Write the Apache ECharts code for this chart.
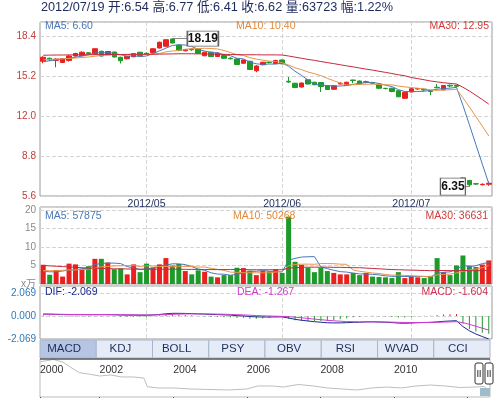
<!DOCTYPE html>
<html>
<head>
<meta charset="utf-8">
<script src="https://cdn.jsdelivr.net/npm/echarts@6/dist/echarts.min.js"></script>
<style>
  html, body { margin: 0; padding: 0; background: #fff; }
  #chart { width: 494px; height: 398px; }
</style>
</head>
<body>
<div id="chart"></div>
<script>
// 交易日
const dates = [
  '2012-04-06','2012-04-09','2012-04-10','2012-04-11','2012-04-12','2012-04-13','2012-04-16','2012-04-17','2012-04-18','2012-04-19',
  '2012-04-20','2012-04-23','2012-04-24','2012-04-25','2012-04-26','2012-04-27','2012-05-02','2012-05-03','2012-05-04','2012-05-07',
  '2012-05-08','2012-05-09','2012-05-10','2012-05-11','2012-05-14','2012-05-15','2012-05-16','2012-05-17','2012-05-18','2012-05-21',
  '2012-05-22','2012-05-23','2012-05-24','2012-05-25','2012-05-29','2012-05-30','2012-05-31','2012-06-01','2012-06-04','2012-06-05',
  '2012-06-06','2012-06-07','2012-06-08','2012-06-11','2012-06-12','2012-06-13','2012-06-14','2012-06-15','2012-06-18','2012-06-19',
  '2012-06-20','2012-06-21','2012-06-25','2012-06-26','2012-06-27','2012-06-28','2012-06-29','2012-07-02','2012-07-03','2012-07-04',
  '2012-07-05','2012-07-06','2012-07-09','2012-07-10','2012-07-11','2012-07-13','2012-07-16','2012-07-17','2012-07-18','2012-07-19'
];

// K线 开 收 低 高
const open = [
  16.38,16.62,16.45,16.28,16.45,16.80,16.82,17.06,16.96,17.18, 16.90,17.12,16.70,16.58,16.74,17.10,17.02,17.06,17.44,17.58,
  18.16,17.68,17.22,17.34,17.36,16.82,17.10,16.76,16.84,16.62, 16.56,16.22,16.38,15.62,16.10,16.30,16.20,16.48,14.78,14.62,
  14.32,14.90,14.70,14.68,14.42,14.14,14.56,14.44,14.88,14.80, 14.70,14.66,14.54,14.21,14.22,14.02,13.42,13.92,14.16,14.14,
  14.02,14.30,14.10,14.46,14.46,7.05,6.85,6.58,6.50,6.54
];
const close = [
  16.70,16.52,16.55,16.58,16.80,17.00,17.10,16.98,17.38,16.80, 17.16,16.72,16.42,16.78,17.00,16.82,16.96,17.38,17.90,18.10,
  17.84,17.24,17.30,17.30,17.02,17.10,16.76,17.04,16.62,16.58, 16.12,16.48,15.72,16.00,16.30,16.28,16.44,16.18,14.72,14.28,
  14.64,14.56,14.50,14.36,14.12,14.42,14.62,14.70,14.84,14.56, 14.74,14.62,14.22,14.20,13.96,13.54,13.90,14.18,14.20,14.08,
  13.96,14.26,14.44,14.40,14.38,6.78,6.50,6.56,6.54,6.62
];
const low = [
  16.22,16.40,15.90,16.24,16.35,16.74,16.78,16.90,16.92,16.76, 16.86,16.68,16.20,16.52,16.70,16.78,16.90,17.02,17.40,17.54,
  17.80,17.18,17.16,17.22,16.98,16.78,16.72,16.72,16.56,16.52, 16.08,16.18,15.68,15.50,16.06,16.20,16.16,16.14,14.66,14.22,
  14.28,14.52,14.46,13.92,14.08,14.10,14.52,14.40,14.62,14.52, 14.62,14.56,14.18,14.12,13.90,13.50,13.38,13.88,14.10,14.00,
  13.66,14.22,14.06,14.30,14.30,6.70,6.35,6.48,6.45,6.41
];
const high = [
  16.78,16.66,16.62,16.62,16.88,17.06,17.18,17.10,17.42,17.22, 17.20,17.14,16.74,16.82,17.04,17.14,17.08,17.42,17.96,18.15,
  18.19,17.72,17.36,17.40,17.40,17.14,17.14,17.08,16.88,16.70, 16.60,16.52,16.42,16.06,16.34,16.36,16.50,16.52,15.12,14.66,
  14.68,14.94,14.74,14.72,14.46,14.46,14.70,14.74,14.90,14.84, 14.82,14.72,14.58,14.26,14.26,14.06,13.94,14.22,14.26,14.20,
  14.06,14.56,14.48,14.52,14.50,7.10,6.88,6.65,6.60,6.77
];
const ma5 = [
  16.34,16.42,16.50,16.56,16.63,16.69,16.81,16.89,17.05,17.05, 17.08,17.01,16.90,16.78,16.82,16.75,16.80,16.99,17.21,17.43,
  17.64,17.69,17.68,17.56,17.34,17.19,17.10,17.04,16.91,16.82, 16.62,16.57,16.30,16.18,16.12,16.16,16.15,16.24,15.98,15.58,
  15.25,14.88,14.54,14.47,14.44,14.39,14.40,14.44,14.53,14.62, 14.68,14.69,14.60,14.47,14.35,14.11,13.96,13.96,13.96,13.98,
  14.06,14.14,14.19,14.23,14.29,12.85,11.30,9.72,8.15,6.60
];
const ma10 = [
  16.50,16.52,16.55,16.58,16.60,16.64,16.68,16.72,16.78,16.84, 16.89,16.91,16.90,16.92,16.94,16.92,16.91,16.95,17.00,17.13,
  17.20,17.25,17.34,17.39,17.39,17.42,17.40,17.36,17.24,17.08, 16.91,16.84,16.67,16.55,16.47,16.39,16.36,16.27,16.08,15.85,
  15.71,15.52,15.39,15.23,15.01,14.82,14.64,14.49,14.50,14.53, 14.54,14.55,14.52,14.50,14.49,14.40,14.33,14.28,14.22,14.17,
  14.09,14.05,14.08,14.10,14.14,13.46,12.72,11.96,11.19,10.40
];
const ma30 = [
  16.86,16.87,16.88,16.88,16.89,16.89,16.90,16.90,16.91,16.91, 16.92,16.92,16.92,16.93,16.93,16.93,16.94,16.94,16.95,16.96,
  16.97,16.98,16.98,16.98,16.97,16.96,16.95,16.94,16.93,16.92, 16.91,16.90,16.90,16.90,16.89,16.89,16.89,16.88,16.80,16.71,
  16.62,16.53,16.45,16.36,16.27,16.19,16.10,16.01,15.93,15.84, 15.75,15.67,15.58,15.49,15.40,15.30,15.22,15.08,14.99,14.90,
  14.80,14.73,14.66,14.61,14.56,14.30,14.00,13.66,13.32,12.95
];

// 成交量（万）
const vol = [
  5.2,2.5,3.8,2.0,5.5,5.3,4.0,4.8,6.8,6.8, 5.8,4.0,4.2,2.6,5.3,3.2,5.5,4.5,5.3,7.0,
  5.0,5.4,3.5,2.6,3.7,3.3,2.0,1.8,2.4,2.4, 4.4,4.3,3.6,2.4,3.5,3.4,4.0,3.0,18.2,6.0,
  5.2,4.4,3.2,4.4,3.5,3.0,2.6,2.6,3.0,2.4, 3.0,2.0,1.9,1.8,1.6,3.2,1.6,2.0,1.8,1.6,
  2.2,7.0,3.2,2.4,5.0,7.7,5.0,4.6,5.27,6.37
];
const volMa5 = [
  3.40,3.30,3.30,3.50,3.80,3.82,4.12,4.32,5.28,5.54, 5.64,5.64,5.52,4.68,4.38,3.86,4.16,4.22,4.76,5.10,
  5.46,5.44,5.24,4.70,4.04,3.70,3.02,2.68,2.64,2.38, 2.60,3.06,3.42,3.42,3.64,3.44,3.38,3.26,6.42,6.92,
  7.28,7.36,7.40,4.64,4.14,3.70,3.34,3.22,2.94,2.72, 2.72,2.60,2.46,2.22,2.06,2.10,2.02,2.04,2.04,2.04,
  1.84,2.92,3.16,3.28,3.96,5.06,4.66,4.94,5.51,5.79
];
const volMa10 = [
  3.60,3.60,3.60,3.70,3.80,3.80,3.90,4.00,4.30,4.67, 4.73,4.88,4.92,4.98,4.96,4.75,4.90,4.87,4.72,4.74,
  4.66,4.80,4.73,4.73,4.57,4.58,4.23,3.96,3.67,3.21, 3.15,3.04,3.05,3.03,3.01,3.02,3.22,3.34,4.92,5.28,
  5.36,5.37,5.33,5.53,5.53,5.49,5.35,5.31,3.79,3.43, 3.21,2.97,2.84,2.58,2.39,2.41,2.31,2.25,2.13,2.05,
  1.97,2.47,2.60,2.66,3.00,3.45,3.79,4.05,4.40,5.03
];
const volMa30 = [
  5.00,4.90,4.80,4.70,4.60,4.50,4.40,4.30,4.30,4.20, 4.15,4.10,4.10,4.05,4.05,4.00,4.00,4.00,4.00,4.00,
  4.00,4.00,3.95,3.95,3.95,3.90,3.90,3.90,3.90,3.90, 3.90,3.90,3.85,3.85,3.85,3.85,3.85,3.85,4.30,4.40,
  4.50,4.55,4.55,4.55,4.55,4.50,4.50,4.45,4.40,4.40, 4.30,4.20,4.10,4.00,3.90,3.85,3.80,3.75,3.70,3.65,
  3.60,3.65,3.65,3.60,3.60,3.65,3.60,3.60,3.62,3.66
];

// MACD
const dif = [
  0.18,0.17,0.15,0.13,0.12,0.12,0.12,0.11,0.12,0.12, 0.12,0.11,0.09,0.08,0.08,0.07,0.07,0.09,0.14,0.20,
  0.24,0.24,0.23,0.22,0.19,0.17,0.14,0.13,0.10,0.08, 0.03,0.01,-0.05,-0.08,-0.09,-0.09,-0.08,-0.08,-0.18,-0.30,
  -0.38,-0.45,-0.51,-0.56,-0.61,-0.62,-0.62,-0.60,-0.57,-0.56, -0.53,-0.52,-0.54,-0.56,-0.59,-0.64,-0.65,-0.63,-0.60,-0.58,
  -0.57,-0.53,-0.48,-0.45,-0.42,-0.95,-1.33,-1.62,-1.85,-2.069
];
const dea = [
  0.15,0.15,0.15,0.15,0.14,0.14,0.14,0.13,0.13,0.13, 0.13,0.12,0.12,0.11,0.11,0.10,0.10,0.10,0.11,0.12,
  0.15,0.17,0.18,0.19,0.19,0.19,0.18,0.17,0.16,0.14, 0.12,0.10,0.07,0.04,0.02,0.00,-0.02,-0.03,-0.06,-0.11,
  -0.16,-0.22,-0.28,-0.33,-0.39,-0.43,-0.47,-0.50,-0.51,-0.53, -0.53,-0.53,-0.53,-0.54,-0.55,-0.57,-0.58,-0.59,-0.59,-0.59,
  -0.58,-0.57,-0.55,-0.53,-0.51,-0.60,-0.75,-0.92,-1.10,-1.267
];
const macd = [
  0.06,0.04,0.00,-0.04,-0.04,-0.04,-0.04,-0.04,-0.02,-0.02, -0.02,-0.02,-0.06,-0.06,-0.06,-0.06,-0.06,-0.02,0.06,0.16,
  0.18,0.14,0.10,0.06,0.00,-0.04,-0.08,-0.08,-0.12,-0.12, -0.18,-0.18,-0.24,-0.24,-0.22,-0.18,-0.12,-0.10,-0.24,-0.38,
  -0.44,-0.46,-0.46,-0.46,-0.44,-0.38,-0.30,-0.20,-0.12,-0.06, 0.00,0.02,-0.02,-0.04,-0.08,-0.14,-0.14,-0.08,-0.02,0.02,
  0.02,0.08,0.14,0.16,0.18,-0.70,-1.16,-1.40,-1.50,-1.604
];

// 历史走势（缩略）
const histYear = [
  2000.40,2000.75,2001.00,2001.20,2001.45,2001.70,2002.00,2002.30,2002.60,2002.90,
  2003.20,2003.30,2003.60,2004.00,2004.50,2005.00,2005.50,2006.00,2006.30,2006.70,
  2007.00,2007.40,2007.80,2008.20,2008.60,2009.00,2009.40,2009.80,2010.20,2010.60,
  2011.00,2011.40,2011.80,2012.20,2012.45,2012.55
];
const histPrice = [
  37.2,39.5,36.8,31.6,25.6,24.2,22.1,23.2,21.1,21.1,
  20.0,10.8,9.5,9.5,8.4,7.9,7.4,8.4,11.6,11.6,
  10.5,13.2,11.6,9.5,8.4,7.4,9.5,10.5,9.5,11.6,
  12.6,11.6,10.0,10.5,11.0,7.4
];

const tabNames = ['MACD', 'KDJ', 'BOLL', 'PSY', 'OBV', 'RSI', 'WVAD', 'CCI'];

const UP = '#e8201e';
const DOWN = '#1e9a2a';
const FONT = "'Liberation Sans', 'Noto Sans CJK SC', sans-serif";

const monthStart = (idx) => idx > 0 && dates[idx].slice(5, 7) !== dates[idx - 1].slice(5, 7);

const maxHigh = Math.max(...high);
const iMax = high.indexOf(maxHigh);
const minLow = Math.min(...low);
const iMin = low.indexOf(minLow);

function maLine(data, color, idx) {
  return {
    type: 'line', xAxisIndex: idx, yAxisIndex: idx, data: data,
    symbol: 'none', silent: true,
    lineStyle: { width: 1, color: color }, itemStyle: { color: color }
  };
}

function txt(x, y, s, color, opt) {
  const el = { type: 'text', top: y, style: { text: s, fill: color, font: (opt && opt.font) || ('10.5px ' + FONT) }, z: 100 };
  if (opt && opt.right !== undefined) el.right = opt.right; else el.left = x;
  return el;
}

const graphics = [
  txt(41, 1, '2012/07/19 开:6.54 高:6.77 低:6.41 收:6.62 量:63723 幅:1.22%', '#1c2a5c', { font: '12.7px ' + FONT }),
  txt(45, 21, 'MA5: 6.60', '#4a78b8'),
  txt(236, 21, 'MA10: 10.40', '#e08a3c'),
  txt(0, 21, 'MA30: 12.95', '#d23a3a', { right: 5 }),
  txt(45, 211, 'MA5: 57875', '#4a78b8'),
  txt(233, 211, 'MA10: 50268', '#e08a3c'),
  txt(0, 211, 'MA30: 36631', '#d23a3a', { right: 6 }),
  txt(45, 287, 'DIF: -2.069', '#1c2a8c'),
  txt(237, 287, 'DEA: -1.267', '#d03cd0'),
  txt(0, 287, 'MACD: -1.604', '#c83250', { right: 6 })
];

// 指标选项卡
tabNames.forEach((name, i) => {
  const w = 450 / tabNames.length;
  const x = 40 + i * w;
  graphics.push({
    type: 'rect', shape: { x: x, y: 340, width: w, height: 18 },
    style: { fill: i === 0 ? '#b6c5e4' : '#e6ecf7', stroke: '#a9b5ca', lineWidth: 1 }, z: 90
  });
  graphics.push({
    type: 'text', x: x + w / 2 - 4, y: 349,
    style: { text: name, fill: '#1e2d5a', font: '11.5px ' + FONT, align: 'center', verticalAlign: 'middle' }, z: 95
  });
});

// 缩略轴上沿与拖动手柄
graphics.push({ type: 'line', shape: { x1: 40, y1: 359, x2: 490, y2: 359 }, style: { stroke: '#222', lineWidth: 1 }, z: 96 });
graphics.push({ type: 'rect', shape: { x: 480, y: 388, width: 10, height: 8 }, style: { fill: '#9fbccb' }, z: 96 });
[475, 485].forEach(hx => {
  graphics.push({ type: 'rect', shape: { x: hx, y: 363, width: 8, height: 21, r: 2 }, style: { fill: '#fff', stroke: '#333', lineWidth: 1 }, z: 97 });
  [2.5, 4, 5.5].forEach(dx => {
    graphics.push({ type: 'line', shape: { x1: hx + dx, y1: 370, x2: hx + dx, y2: 377 }, style: { stroke: '#555', lineWidth: 0.8 }, z: 98 });
  });
});

const chart = echarts.init(document.getElementById('chart'));

const catAxis = (g) => ({
  type: 'category', gridIndex: g, data: dates, boundaryGap: true,
  axisLine: { show: false }, axisTick: { show: false },
  axisLabel: {
    show: g === 0, interval: monthStart, color: '#1f2d5c', fontSize: 10.5, margin: 3, fontFamily: FONT,
    formatter: (v) => v.slice(0, 7).replace('-', '/')
  },
  splitLine: { show: true, interval: monthStart, alignWithLabel: true, lineStyle: { color: '#d4d4d4', type: 'dashed' } }
});

const dashed = { show: true, lineStyle: { color: '#d4d4d4', type: 'dashed' } };

chart.setOption({
  animation: false,
  backgroundColor: '#fff',
  textStyle: { fontFamily: FONT },
  grid: [
    { left: 40, top: 22, width: 452, height: 174, show: true, borderColor: '#9a9a9a' },
    { left: 40, top: 207, width: 452, height: 77, show: true, borderColor: '#9a9a9a' },
    { left: 40, top: 286, width: 452, height: 53, show: true, borderColor: '#9a9a9a' },
    { left: 40, top: 359, width: 450, height: 38, show: true, borderColor: '#bbbbbb' }
  ],
  xAxis: [
    catAxis(0), catAxis(1), catAxis(2),
    {
      type: 'value', gridIndex: 3, min: 2000.38, max: 2012.61, position: 'top',
      axisLine: { show: false },
      axisTick: { show: true, inside: true, length: 4, lineStyle: { color: '#555' } },
      axisLabel: { inside: true, align: 'left', margin: 6, color: '#333', fontSize: 10.5, showMaxLabel: false,
        formatter: (v) => (v > 2011.5 ? '' : String(Math.floor(v + 1e-6))) },
      splitLine: { show: false }
    }
  ],
  yAxis: [
    {
      type: 'value', gridIndex: 0, min: 5.6, max: 19.52, interval: 3.2,
      axisLine: { show: false }, axisTick: { show: false }, splitLine: dashed,
      axisLabel: { color: '#c2403a', fontSize: 10, margin: 4, showMaxLabel: false, formatter: (v) => v.toFixed(1) }
    },
    {
      type: 'value', gridIndex: 1, min: 0, max: 20.8, interval: 5,
      axisLine: { show: false }, axisTick: { show: false }, splitLine: dashed,
      axisLabel: { color: '#8a8a8a', fontSize: 10, margin: 4, showMaxLabel: false, formatter: (v) => (v === 0 ? 'x万' : v) }
    },
    {
      type: 'value', gridIndex: 2, min: -2.069, max: 2.7, interval: 2.069,
      axisLine: { show: false }, axisTick: { show: false }, splitLine: dashed,
      axisLabel: { color: '#2f7ab6', fontSize: 10, margin: 4, showMaxLabel: false,
        formatter: (v) => (Math.abs(v) < 1e-9 ? '0.000' : v.toFixed(3)) }
    },
    { type: 'value', gridIndex: 3, min: 0, max: 40, show: false }
  ],
  series: [
    {
      type: 'candlestick', xAxisIndex: 0, yAxisIndex: 0, barWidth: 5,
      data: dates.map((d, i) => [open[i], close[i], low[i], high[i]]),
      itemStyle: { color: UP, color0: DOWN, borderColor: UP, borderColor0: DOWN, borderWidth: 1 },
      markPoint: {
        silent: true,
        itemStyle: { color: '#fff', borderColor: '#666', borderWidth: 1 },
        label: { show: true, position: 'inside', color: '#111', fontWeight: 'bold', fontSize: 12, fontFamily: FONT,
          formatter: (p) => p.value },
        data: [
          { coord: [dates[iMax], maxHigh], value: maxHigh.toFixed(2),
            symbol: 'path://M0 7.5L15 7.5L15 0L46 0L46 15L15 15L15 7.5Z',
            symbolSize: [46, 15], symbolOffset: [23, 0], label: { offset: [7.5, 0] } },
          { coord: [dates[iMin], minLow], value: minLow.toFixed(2),
            symbol: 'path://M0 0L25 0L25 8.5L29 8.5L25 8.5L25 17L0 17Z',
            symbolSize: [29, 17], symbolOffset: [-14.5, 0], label: { offset: [-2, 0] } }
        ]
      }
    },
    maLine(ma5, '#4a78b8', 0),
    maLine(ma10, '#e8954a', 0),
    maLine(ma30, '#c8283c', 0),
    {
      type: 'bar', xAxisIndex: 1, yAxisIndex: 1, barWidth: 5,
      data: vol.map((v, i) => ({ value: v, itemStyle: { color: close[i] >= open[i] ? UP : DOWN } }))
    },
    maLine(volMa5, '#4a78b8', 1),
    maLine(volMa10, '#e8954a', 1),
    maLine(volMa30, '#c8283c', 1),
    {
      type: 'bar', xAxisIndex: 2, yAxisIndex: 2, barWidth: 1,
      data: macd.map((v) => ({ value: v, itemStyle: { color: v >= 0 ? UP : DOWN } }))
    },
    maLine(dif, '#1c2a8c', 2),
    maLine(dea, '#d03cd0', 2),
    {
      type: 'line', xAxisIndex: 3, yAxisIndex: 3, symbol: 'none', silent: true,
      data: histYear.map((y, i) => [y, histPrice[i]]),
      lineStyle: { width: 1, color: '#bdbdbd' }
    }
  ],
  graphic: graphics
});
</script>
</body>
</html>
